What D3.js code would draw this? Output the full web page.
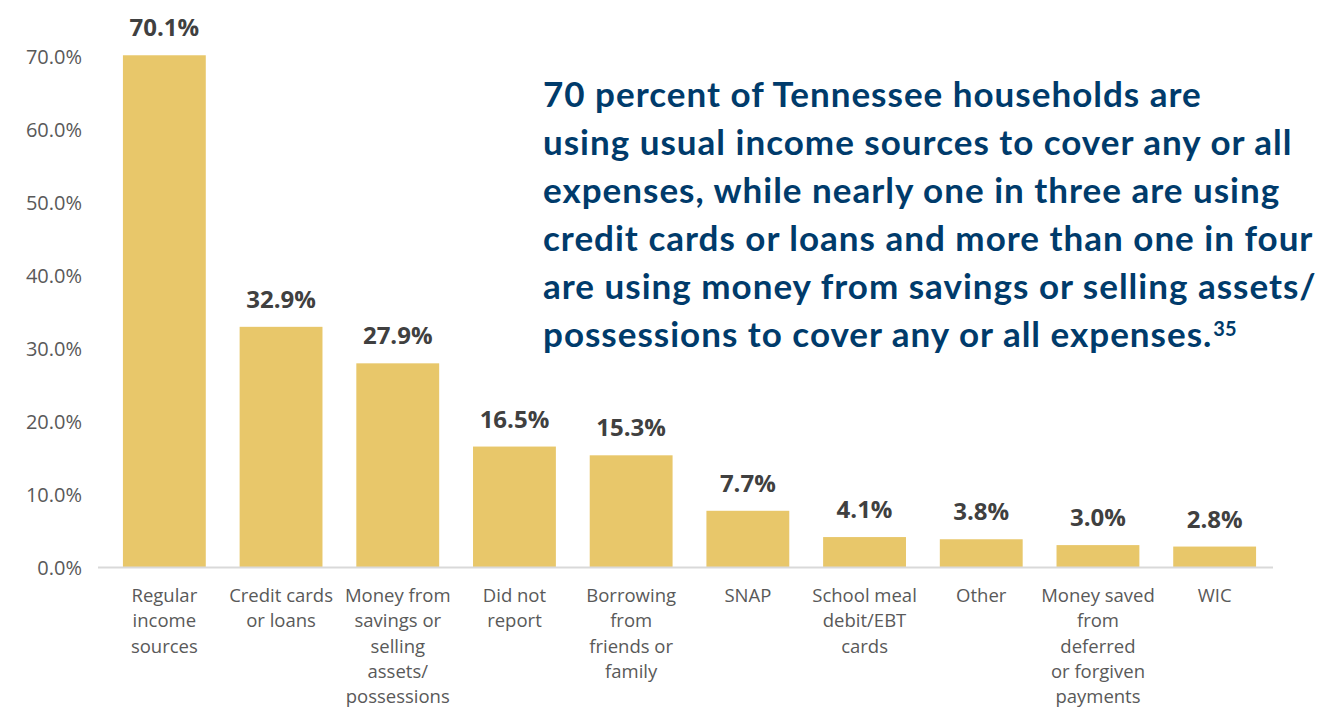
<!DOCTYPE html>
<html>
<head>
<meta charset="utf-8">
<script src="https://cdn.jsdelivr.net/npm/d3@7"></script>
<style>
  html, body { margin: 0; padding: 0; background: #fff; }
  svg { display: block; }
</style>
</head>
<body>
<svg id="chart" width="1326" height="707"></svg>
<script>
// Household sources used to cover expenses (share of Tennessee households)
const categories = [
  "Regular income sources",
  "Credit cards or loans",
  "Money from savings or selling assets/possessions",
  "Did not report",
  "Borrowing from friends or family",
  "SNAP",
  "School meal debit/EBT cards",
  "Other",
  "Money saved from deferred or forgiven payments",
  "WIC"
];
const values = [70.1, 32.9, 27.9, 16.5, 15.3, 7.7, 4.1, 3.8, 3.0, 2.8];

// Wrapped category labels, one entry per line
const categoryLines = [
  ["Regular", "income", "sources"],
  ["Credit cards", "or loans"],
  ["Money from", "savings or", "selling", "assets/", "possessions"],
  ["Did not", "report"],
  ["Borrowing", "from", "friends or", "family"],
  ["SNAP"],
  ["School meal", "debit/EBT", "cards"],
  ["Other"],
  ["Money saved", "from", "deferred", "or forgiven", "payments"],
  ["WIC"]
];

const yTicks = [0, 10, 20, 30, 40, 50, 60, 70];

const headlineLines = [
  "70 percent of Tennessee households are",
  "using usual income sources to cover any or all",
  "expenses, while nearly one in three are using",
  "credit cards or loans and more than one in four",
  "are using money from savings or selling assets/",
  "possessions to cover any or all expenses."
];
const footnote = "35";

const svg = d3.select("#chart");

const x = d3.scaleBand()
  .domain(categories)
  .range([106, 1273])
  .paddingInner(0.29)
  .paddingOuter(0.145);

const y = d3.scaleLinear()
  .domain([0, 70])
  .range([567, 56]);

// y axis labels
const yAxis = d3.axisLeft(y)
  .tickValues(yTicks)
  .tickFormat(d => d.toFixed(1) + "%")
  .tickSize(0)
  .tickPadding(0);

const yG = svg.append("g")
  .attr("transform", "translate(82,0)")
  .call(yAxis);
yG.select(".domain").remove();
yG.selectAll("text")
  .attr("font-family", "'Open Sans', sans-serif")
  .attr("font-size", 20)
  .attr("fill", "#595959")
  .attr("dy", "0.35em");

// bars
svg.append("g")
  .selectAll("rect")
  .data(values)
  .join("rect")
  .attr("x", (d, i) => x(categories[i]))
  .attr("y", d => y(d))
  .attr("width", x.bandwidth())
  .attr("height", d => y(0) - y(d))
  .attr("fill", "#E8C76A");

// baseline
svg.append("line")
  .attr("x1", 98)
  .attr("x2", x.range()[1])
  .attr("y1", y(0) + 0.5)
  .attr("y2", y(0) + 0.5)
  .attr("stroke", "#d9d9d9")
  .attr("stroke-width", 2);

// value labels
svg.append("g")
  .selectAll("text")
  .data(values)
  .join("text")
  .attr("x", (d, i) => x(categories[i]) + x.bandwidth() / 2)
  .attr("y", d => y(d) - 19)
  .attr("text-anchor", "middle")
  .attr("font-family", "'Open Sans', sans-serif")
  .attr("font-weight", 700)
  .attr("font-size", 24)
  .attr("fill", "#404040")
  .text(d => d.toFixed(1) + "%");

// category labels
const xAxis = d3.axisBottom(x).tickSize(0).tickFormat("");
const xG = svg.append("g")
  .attr("transform", `translate(0,${y(0)})`)
  .call(xAxis);
xG.select(".domain").remove();
xG.selectAll(".tick").each(function (d, i) {
  const t = d3.select(this).append("text")
    .attr("text-anchor", "middle")
    .attr("font-family", "'Open Sans', sans-serif")
    .attr("font-size", 18.5)
    .attr("fill", "#595959");
  categoryLines[i].forEach((line, k) => {
    t.append("tspan")
      .attr("x", 0)
      .attr("y", 35 + k * 25.3)
      .text(line);
  });
});

// headline
const head = svg.append("text")
  .attr("font-family", "Lato, sans-serif")
  .attr("font-weight", 700)
  .attr("font-size", 35)
  .attr("letter-spacing", 1)
  .attr("fill", "#003B6B");
headlineLines.forEach((line, k) => {
  head.append("tspan")
    .attr("x", 543)
    .attr("y", 107 + k * 47.9)
    .text(line);
});
head.append("tspan")
  .attr("font-size", 20)
  .attr("letter-spacing", 0)
  .attr("dy", -11)
  .attr("dx", 1)
  .text(footnote);
</script>
</body>
</html>
